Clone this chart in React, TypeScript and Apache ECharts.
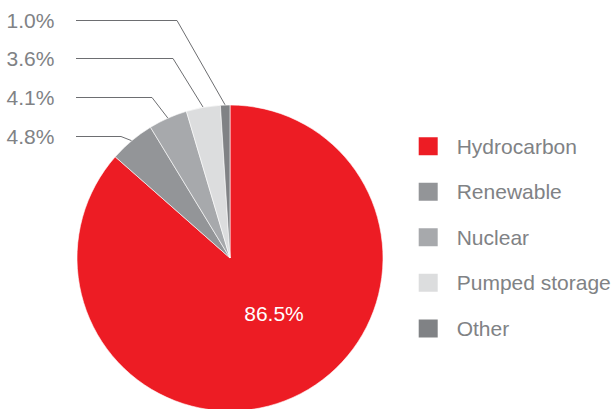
import React, { useEffect, useRef } from 'react';
import * as echarts from 'echarts';

const categories = ['Hydrocarbon', 'Renewable', 'Nuclear', 'Pumped storage', 'Other'];
const shares = [86.5, 4.8, 4.1, 3.6, 1.0];
const colors = ['#ed1c24', '#939598', '#a7a9ac', '#dcddde', '#808285'];

// layout constants for the outside labels (index matches categories)
const labelRowY = [0, 136.5, 97.5, 58.5, 20.5];
const labelElbowX = [0, 121, 152, 173, 177];
const FONT = '"Liberation Sans", Arial, sans-serif';
const GREY_TEXT = '#808285';

export default function App() {
  const ref = useRef<HTMLDivElement>(null);

  useEffect(() => {
    if (!ref.current) return;
    const chart = echarts.init(ref.current, undefined, { renderer: 'svg' });
    const data = categories.map((name, i) => ({
      name,
      value: shares[i],
      itemStyle: { color: colors[i] },
      label:
        i === 0
          ? { show: true, position: 'inside', color: '#ffffff', fontSize: 21 }
          : { show: true, position: 'outside', color: GREY_TEXT, fontSize: 21 },
      labelLine: { show: i !== 0 },
    }));
    chart.setOption({
      animation: false,
      backgroundColor: '#ffffff',
      textStyle: { fontFamily: FONT },
      legend: {
        orient: 'vertical',
        left: 411.7,
        top: 130.2,
        icon: 'rect',
        itemWidth: 21,
        itemHeight: 20,
        itemGap: 23.55,
        selectedMode: false,
        data: categories,
        textStyle: {
          fontSize: 21,
          lineHeight: 20,
          color: GREY_TEXT,
          fontFamily: FONT,
          padding: [0, 0, 0, 13],
        },
      },
      series: [
        {
          type: 'pie',
          center: [230, 258],
          radius: 153,
          startAngle: 90,
          clockwise: true,
          avoidLabelOverlap: false,
          itemStyle: { borderColor: '#ffffff', borderWidth: 0.6 },
          label: {
            fontFamily: FONT,
            formatter: (p: any) => shares[p.dataIndex].toFixed(1) + '%',
          },
          labelLine: {
            length: 10,
            length2: 10,
            lineStyle: { color: '#6d6e71', width: 1 },
          },
          emphasis: { disabled: true },
          labelLayout: (p: any) => {
            const i = p.dataIndex;
            if (i === 0) {
              return { x: 274, y: 313, align: 'center', verticalAlign: 'middle' };
            }
            const start = p.labelLinePoints && p.labelLinePoints[0];
            const y = labelRowY[i];
            return {
              x: 6.5,
              y,
              align: 'left',
              verticalAlign: 'middle',
              labelLinePoints: [
                [start[0], start[1]],
                [labelElbowX[i], y],
                [76, y],
              ],
            };
          },
          data,
        },
      ],
    });
    return () => chart.dispose();
  }, []);

  return (
    <div
      ref={ref}
      style={{ position: 'fixed', left: 0, top: 0, width: 612, height: 409 }}
    />
  );
}
